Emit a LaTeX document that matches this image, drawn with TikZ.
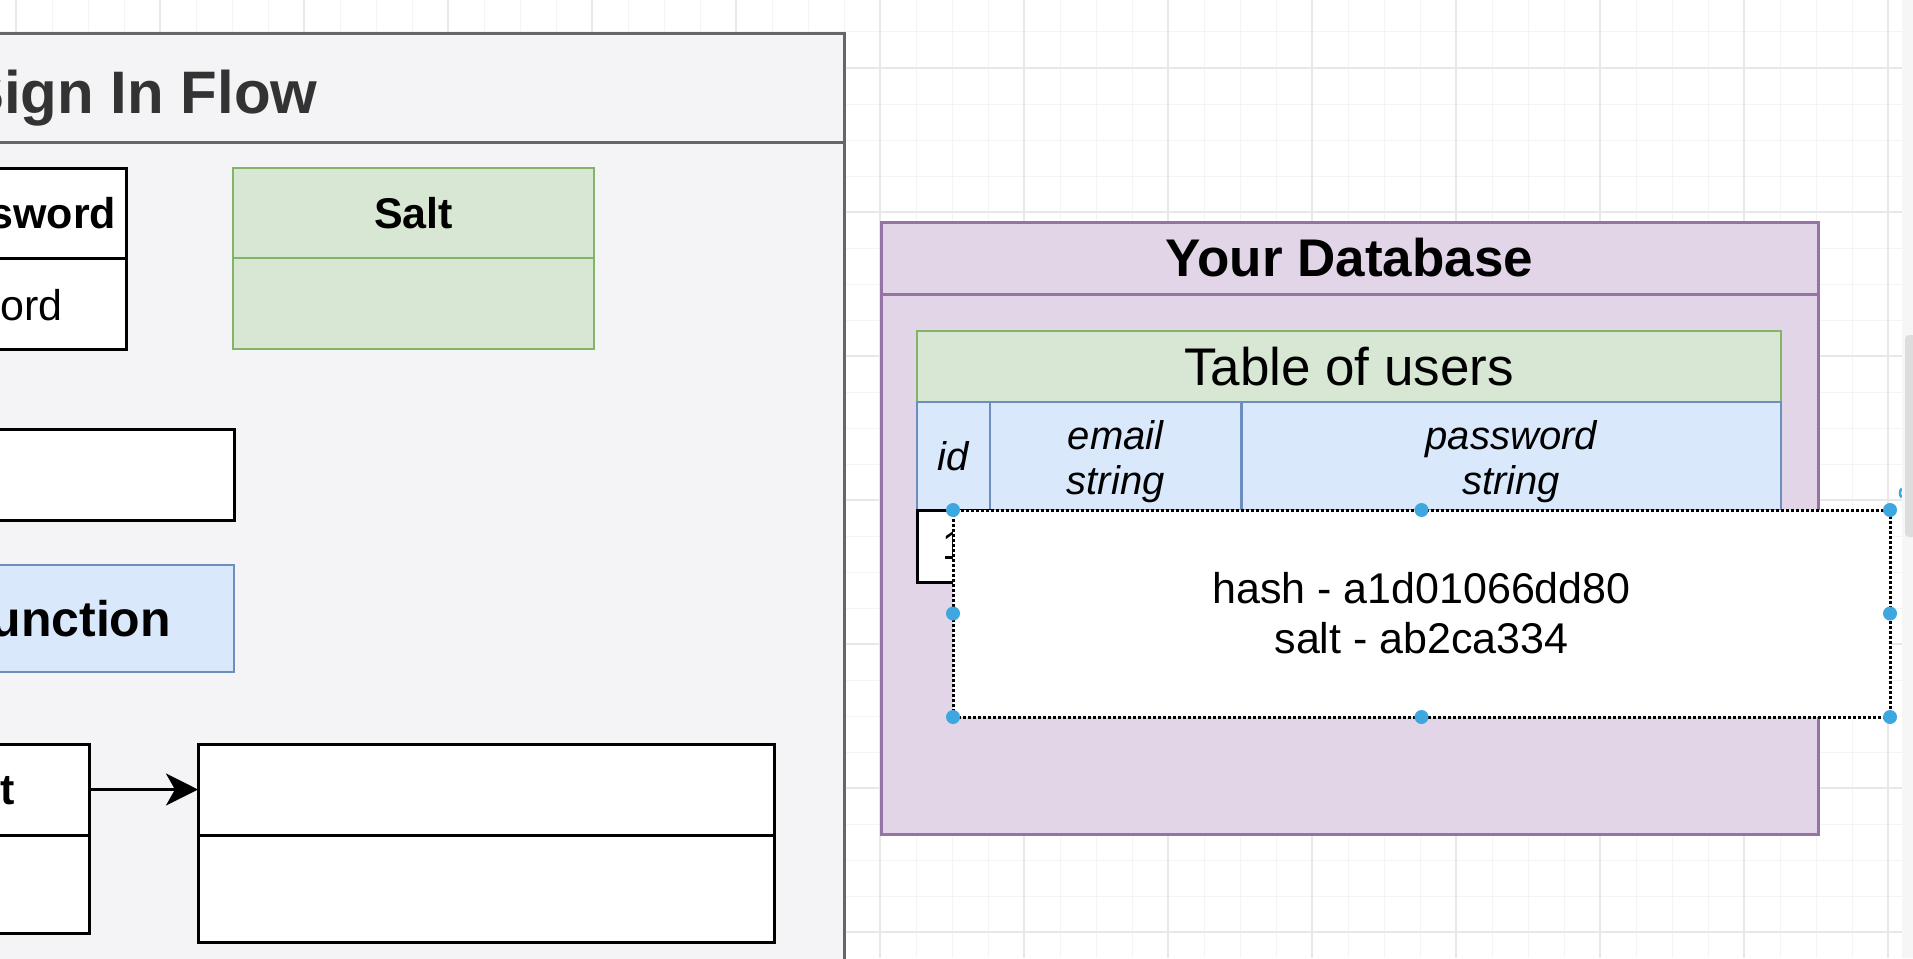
\documentclass[tikz,border=0pt]{standalone}
\usepackage{fontspec}
\setmainfont{Liberation Sans}
\usepackage{xcolor}
\usetikzlibrary{positioning,arrows.meta}

\definecolor{lanefill}{HTML}{F4F4F6}
\definecolor{lanedraw}{HTML}{666666}
\definecolor{titlegray}{HTML}{333333}
\definecolor{greenfill}{HTML}{D8E6D4}
\definecolor{greendraw}{HTML}{82B366}
\definecolor{bluefill}{HTML}{DAE8FC}
\definecolor{bluedraw}{HTML}{6C8EBF}
\definecolor{purplefill}{HTML}{E1D5E7}
\definecolor{purpledraw}{HTML}{9673A6}
\definecolor{gridminor}{HTML}{F4F4F4}
\definecolor{gridmajor}{HTML}{E8E8E8}
\definecolor{handleblue}{HTML}{3EA7E0}
\definecolor{scrolltrack}{HTML}{F6F6F6}
\definecolor{scrollthumb}{HTML}{DDDDDD}

\begin{document}
\begin{tikzpicture}[x=1pt, y=-1pt,
    lane/.style={draw=lanedraw, fill=lanefill, line width=3pt, inner sep=0pt, outer sep=0pt},
    cell/.style={draw=black, fill=white, line width=3pt, inner sep=0pt, outer sep=0pt},
    greencell/.style={cell, draw=greendraw, fill=greenfill, line width=2.5pt},
    bluecell/.style={cell, draw=bluedraw, fill=bluefill, line width=2.5pt},
    purplecell/.style={cell, draw=purpledraw, fill=purplefill},
    boldlabel/.style={font=\fontsize{43}{50}\selectfont\bfseries},
    plainlabel/.style={font=\fontsize{43}{50}\selectfont},
    collabel/.style={font=\fontsize{40}{45}\selectfont\itshape, align=center},
    handle/.style={fill=handleblue},
    flow/.style={line width=3pt, -{Stealth[length=32pt, width=32pt, inset=9pt]}}]
    \useasboundingbox (0,0) rectangle (1913,958);
    \clip (0,0) rectangle (1913,958);

    % canvas grid
    \fill[white] (0,0) rectangle (1913,958);
    \foreach \x in {16,52,...,1912} \draw[gridminor, line width=1pt] (\x,0) -- (\x,958);
    \foreach \y in {32,68,...,958} \draw[gridminor, line width=1pt] (0,\y) -- (1913,\y);
    \foreach \x in {16,160,...,1912} \draw[gridmajor, line width=1.2pt] (\x,0) -- (\x,958);
    \foreach \y in {68,212,...,958} \draw[gridmajor, line width=1.2pt] (0,\y) -- (1913,\y);

    % sign in lane
    \node[lane, anchor=north west, minimum width=1400, minimum height=108] (lanehead) at (-556,34) {};
    \node[lane, below=0pt of lanehead, minimum width=1400, minimum height=840] (lanebody) {};
    \node[anchor=base east, text=titlegray, font=\fontsize{60}{60}\selectfont\bfseries] (lanetitle) at (321,113) {Sign In Flow};

    \node[cell, boldlabel, anchor=north east, minimum width=223, minimum height=90] (pwhead) at (126,168) {Password};
    \node[cell, below=0pt of pwhead, minimum width=223, minimum height=91] (pwrow) {};
    \node[plainlabel, anchor=base east, inner sep=0pt] (pwtext) at (63,320) {password};

    \node[greencell, boldlabel, anchor=north west, minimum width=361, minimum height=90] (salthead) at (233,168) {Salt};
    \node[greencell, below=0pt of salthead, minimum width=361, minimum height=91] (saltrow) {};

    \node[cell, anchor=north east, minimum width=473, minimum height=91] (inbox) at (234,429) {};
    \node[bluecell, anchor=north east, minimum width=473, minimum height=107,
          font=\fontsize{50}{50}\selectfont\bfseries, text depth=0pt, yshift=-3pt] (hashfn) at (234,562) {Hash Function};

    \node[cell, boldlabel, anchor=north east, minimum width=228, minimum height=91] (slhead) at (89,744) {Salt};
    \node[cell, below=0pt of slhead, minimum width=228, minimum height=98] (slrow) {};
    \node[cell, anchor=north west, minimum width=576, minimum height=91] (outhead) at (198,744) {};
    \node[cell, below=0pt of outhead, minimum width=576, minimum height=107] (outrow) {};
    \draw[flow] (slhead.east) -- (outhead.west);

    % database
    \node[purplecell, anchor=north west, minimum width=937, minimum height=72,
          font=\fontsize{53}{53}\selectfont\bfseries] (dbhead) at (881,222) {Your Database};
    \node[purplecell, below=0pt of dbhead, minimum width=937, minimum height=540] (dbbody) {};

    \node[greencell, anchor=north west, minimum width=864, minimum height=71,
          font=\fontsize{53}{53}\selectfont] (tabhead) at (917,331) {Table of users};
    \node[bluecell, below right=0pt of tabhead.south west, minimum width=73, minimum height=108,
          font=\fontsize{40}{45}\selectfont\itshape] (idcol) {id};
    \node[bluecell, right=0pt of idcol, minimum width=251.5, minimum height=108] (emailcol) {};
    \node[bluecell, right=0pt of emailcol, minimum width=539.5, minimum height=108] (pwcol) {};
    \node[collabel, yshift=-6pt] (emailtext) at (emailcol) {email\\string};
    \node[collabel, yshift=-6pt] (pwcoltext) at (pwcol) {password\\string};

    \node[cell, below=0pt of idcol, minimum width=73, minimum height=72,
          font=\fontsize{40}{40}\selectfont] (idrow) {1};

    % selected value
    \node[cell, draw=black, line width=3pt, dash pattern=on 3pt off 2pt, anchor=north west,
          minimum width=937, minimum height=207, align=center, plainlabel] (popup) at (953,510)
          {hash - a1d01066dd80\\salt - ab2ca334};
    \foreach \a in {north west,north,north east,west,east,south west,south,south east}
        \fill[handle] (popup.\a) circle[radius=7pt];
    \draw[handleblue, line width=2.5pt] (1901.6,488.5) arc[start angle=140, end angle=220, radius=7pt];

    % scrollbar
    \fill[scrolltrack] (1902,0) rectangle (1913,958);
    \fill[scrollthumb, rounded corners=4pt] (1905,335) rectangle (1916,537);
\end{tikzpicture}
\end{document}
